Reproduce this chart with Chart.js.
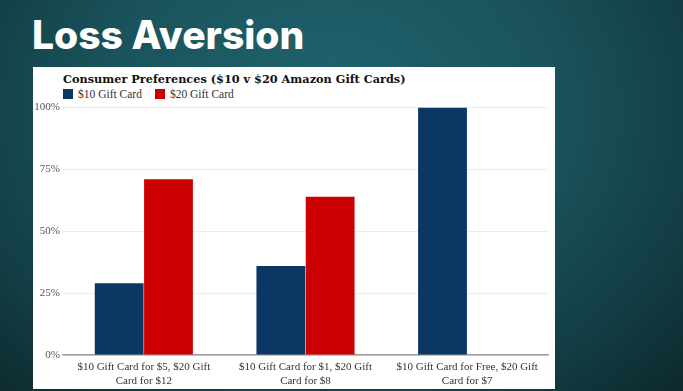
<!DOCTYPE html>
<html>
<head>
<meta charset="utf-8">
<script src="https://cdn.jsdelivr.net/npm/chart.js@4"></script>
<style>
    html, body {
        margin: 0;
        width: 683px;
        height: 391px;
        overflow: hidden;
    }
    body {
        position: relative;
        background: radial-gradient(ellipse 520px 420px at 330px 110px, #1f6570 0%, #1a525b 45%, #123b42 75%, #0c2427 100%);
        font-family: "Liberation Serif", serif;
    }
    h1 {
        position: absolute;
        left: 32px;
        top: 12px;
        margin: 0;
        color: #fff;
        font-family: "Inter", "Open Sans", sans-serif;
        font-weight: 800;
        font-size: 39px;
        line-height: 46px;
    }
    .panel {
        position: absolute;
        left: 33px;
        top: 67px;
        width: 522px;
        height: 322px;
        background: #fff;
    }
    .ctitle {
        position: absolute;
        left: 30px;
        top: 5px;
        font-family: "DejaVu Serif", serif;
        font-weight: bold;
        font-size: 11.3px;
        color: #111;
        white-space: nowrap;
    }
    .legend {
        position: absolute;
        left: 30px;
        top: 21px;
        font-size: 11.5px;
        color: #333;
        white-space: nowrap;
    }
    .legend span {
        display: inline-block;
        margin-right: 13px;
    }
    .legend i {
        display: inline-block;
        width: 10px;
        height: 10px;
        margin-right: 5px;
        vertical-align: -1px;
    }
    .wrap {
        position: absolute;
        left: 0;
        top: 31px;
        width: 522px;
        height: 295px;
    }
</style>
</head>
<body>
<h1>Loss Aversion</h1>
<div class="panel">
    <div class="ctitle">Consumer Preferences ($10 v $20 Amazon Gift Cards)</div>
    <div class="legend" id="legend"></div>
    <div class="wrap"><canvas id="chart"></canvas></div>
</div>
<script>
const categories = [
    ['$10 Gift Card for $5, $20 Gift', 'Card for $12'],
    ['$10 Gift Card for $1, $20 Gift', 'Card for $8'],
    ['$10 Gift Card for Free, $20 Gift', 'Card for $7']
];
const seriesNames = ['$10 Gift Card', '$20 Gift Card'];
const tenDollar = [29, 36, 100];
const twentyDollar = [71, 64, 0];
const yTicks = [0, 25, 50, 75, 100];
const colors = ['#0b3763', '#cc0000'];

// legend
const legend = document.getElementById('legend');
seriesNames.forEach(function (name, i) {
    const item = document.createElement('span');
    item.innerHTML = '<i style="background:' + colors[i] + '"></i>' + name;
    legend.appendChild(item);
});

new Chart(document.getElementById('chart'), {
    type: 'bar',
    data: {
        labels: categories,
        datasets: [
            { label: seriesNames[0], data: tenDollar, backgroundColor: colors[0] },
            { label: seriesNames[1], data: twentyDollar, backgroundColor: colors[1] }
        ]
    },
    options: {
        responsive: true,
        maintainAspectRatio: false,
        animation: false,
        layout: { padding: { top: 7, right: 7, bottom: 0 } },
        datasets: {
            bar: { categoryPercentage: 0.61, barPercentage: 0.99, borderWidth: 0 }
        },
        plugins: {
            legend: { display: false },
            tooltip: { enabled: false }
        },
        scales: {
            x: {
                grid: { display: false, drawTicks: false },
                border: { color: '#9a9a9a', width: 1.5 },
                ticks: {
                    color: '#333',
                    padding: 5,
                    autoSkip: false,
                    maxRotation: 0,
                    font: { family: 'Liberation Serif', size: 11, lineHeight: '14px' }
                }
            },
            y: {
                min: 0,
                max: 100,
                afterBuildTicks: function (axis) {
                    axis.ticks = yTicks.map(function (v) { return { value: v }; });
                },
                afterFit: function (axis) {
                    axis.width = 30;
                },
                border: { display: false },
                grid: {
                    color: '#ececec',
                    drawTicks: false
                },
                ticks: {
                    color: '#555',
                    padding: 3,
                    font: { family: 'Liberation Serif', size: 11 },
                    callback: function (v) { return v + '%'; }
                }
            }
        }
    }
});
</script>
</body>
</html>
